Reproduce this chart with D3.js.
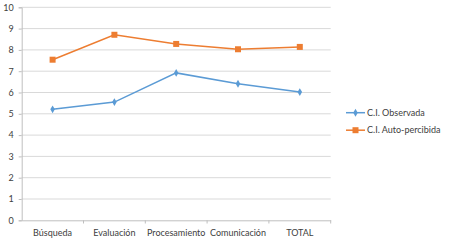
<!DOCTYPE html>
<html>
<head>
<meta charset="utf-8">
<title>CI chart</title>
<style>
  body { margin: 0; background: #fff; }
  text { font-family: Lato, "Open Sans", sans-serif; fill: #404040; }
</style>
</head>
<body>
<script src="https://d3js.org/d3.v7.min.js"></script>
<script>
// categories and values
var categories = ["Búsqueda", "Evaluación", "Procesamiento", "Comunicación", "TOTAL"];
var observada = [5.21, 5.55, 6.92, 6.41, 6.02];
var autopercibida = [7.54, 8.71, 8.28, 8.03, 8.14];
var yTicks = [0, 1, 2, 3, 4, 5, 6, 7, 8, 9, 10];
var seriesNames = ["C.I. Observada", "C.I. Auto-percibida"];

var width = 450, height = 240;
var svg = d3.select("body").append("svg")
    .attr("width", width).attr("height", height);

var x = d3.scaleBand().domain(categories).range([21.7, 330.7]);
var y = d3.scaleLinear().domain([0, 10]).range([220.3, 7.3]);

// gridlines
svg.append("g").selectAll("line")
    .data(yTicks.filter(function (d) { return d > 0; }))
    .enter().append("line")
    .attr("x1", 21.7).attr("x2", 330.7)
    .attr("y1", function (d) { return y(d); })
    .attr("y2", function (d) { return y(d); })
    .attr("stroke", "#d9d9d9").attr("stroke-width", 1);

// y axis
var yAxis = svg.append("g").attr("transform", "translate(21.7,0)")
    .call(d3.axisLeft(y).tickValues(yTicks).tickSize(3).tickPadding(5));
yAxis.select(".domain").attr("stroke", "#bfbfbf");
yAxis.selectAll(".tick line").attr("stroke", "#bfbfbf");
yAxis.selectAll("text").attr("font-size", "9px").attr("fill", "#404040");

// x axis
var xAxis = svg.append("g").attr("transform", "translate(0,220.3)")
    .call(d3.axisBottom(x).tickSize(0).tickPadding(9));
xAxis.select(".domain").attr("stroke", "#bfbfbf");
xAxis.selectAll("text").attr("font-size", "9px").attr("fill", "#404040");
// boundary ticks between categories
svg.append("g").selectAll("line")
    .data(categories)
    .enter().append("line")
    .attr("x1", function (d) { return x(d) + x.bandwidth(); })
    .attr("x2", function (d) { return x(d) + x.bandwidth(); })
    .attr("y1", 220.3).attr("y2", 223.5)
    .attr("stroke", "#bfbfbf");

var cx = function (d, i) { return x(categories[i]) + x.bandwidth() / 2; };
var line = d3.line().x(cx).y(function (d) { return y(d); });

// observada (blue, diamonds)
svg.append("path").datum(observada)
    .attr("d", line).attr("fill", "none")
    .attr("stroke", "#5b9bd5").attr("stroke-width", 1.5);
svg.append("g").selectAll("path")
    .data(observada).enter().append("path")
    .attr("d", d3.symbol().type(d3.symbolDiamond).size(18))
    .attr("transform", function (d, i) { return "translate(" + cx(d, i) + "," + y(d) + ")"; })
    .attr("fill", "#5b9bd5");

// auto-percibida (orange, squares)
svg.append("path").datum(autopercibida)
    .attr("d", line).attr("fill", "none")
    .attr("stroke", "#ed7d31").attr("stroke-width", 1.5);
svg.append("g").selectAll("rect")
    .data(autopercibida).enter().append("rect")
    .attr("x", function (d, i) { return cx(d, i) - 3; })
    .attr("y", function (d) { return y(d) - 3; })
    .attr("width", 6).attr("height", 6)
    .attr("fill", "#ed7d31");

// legend
var colors = ["#5b9bd5", "#ed7d31"];
var legend = svg.append("g").selectAll("g")
    .data(seriesNames).enter().append("g")
    .attr("transform", function (d, i) { return "translate(346," + (112.7 + i * 17.5) + ")"; });
legend.append("line")
    .attr("x1", 0).attr("x2", 19).attr("y1", 0).attr("y2", 0)
    .attr("stroke", function (d, i) { return colors[i]; }).attr("stroke-width", 1.5);
legend.each(function (d, i) {
    var g = d3.select(this);
    if (i == 0) {
        g.append("path").attr("d", d3.symbol().type(d3.symbolDiamond).size(18))
            .attr("transform", "translate(9.5,0)").attr("fill", colors[i]);
    } else {
        g.append("rect").attr("x", 6.5).attr("y", -3).attr("width", 6).attr("height", 6)
            .attr("fill", colors[i]);
    }
});
legend.append("text")
    .attr("x", 21).attr("y", 0).attr("dy", "0.35em")
    .attr("font-size", "9px")
    .text(function (d) { return d; });
</script>
</body>
</html>
